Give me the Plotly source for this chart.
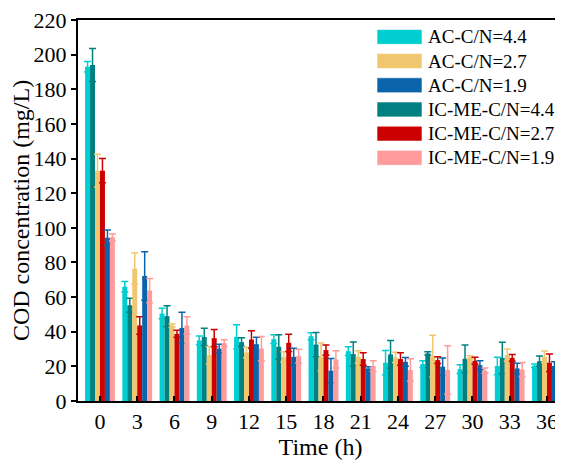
import plotly.graph_objects as go

times = [0, 3, 6, 9, 12, 15, 18, 21, 24, 27, 30, 33, 36]

# series (drawn order within each group)
names = ["AC-C/N=4.4", "IC-ME-C/N=4.4", "AC-C/N=2.7", "IC-ME-C/N=2.7", "AC-C/N=1.9", "IC-ME-C/N=1.9"]
colors = ["#00CED1", "#008080", "#F0C66E", "#CC0000", "#0A64AA", "#FF9B9B"]

ac44 = [193, 66, 50.5, 35, 37, 35.7, 37.4, 28.8, 22.1, 21.3, 18.4, 20.2, 20.4]
ac44_err = [3, 3, 3, 2.5, 7, 2.5, 2, 2.5, 7, 2, 2.5, 5, 1]
ic44 = [194, 55.3, 49, 37, 34, 31.3, 32.6, 27.1, 26.9, 27.5, 24.4, 24.9, 23]
ic44_err = [9.5, 4, 6, 5, 2.5, 7, 7, 7, 8, 1, 8, 9, 3]
ac27 = [133, 76.4, 43.6, 26.5, 28, 25.5, 25.5, 25.5, 25.2, 25.9, 25.2, 26.5, 25.5]
ac27_err = [9.5, 9, 1, 5, 3, 3, 8, 3.5, 3, 12, 1, 3.5, 3.3]
ic27 = [133, 43.6, 38.8, 36.3, 35.5, 33.6, 29.4, 24.2, 24.2, 23.6, 23.2, 24.9, 22.1]
ic27_err = [7, 5, 2, 5, 5, 5, 3, 3.6, 3.6, 2, 2, 2, 5]
ac19 = [94.3, 72.2, 42.2, 30.3, 32.8, 25.5, 17.5, 18.8, 22.6, 19.8, 20.7, 18.8, 20.2]
ac19_err = [4.5, 14, 9, 2.5, 4, 5, 7, 1, 2.5, 5, 2.5, 3, 2.5]
ic19 = [94.5, 63.8, 43.6, 33.4, 30.3, 25.9, 24, 20.2, 17.9, 17.9, 17.5, 18.2, 17.9]
ic19_err = [2, 7, 5, 2, 7, 4, 5, 3, 6.5, 14, 1.5, 4, 3]

values = [ac44, ic44, ac27, ic27, ac19, ic19]
errors = [ac44_err, ic44_err, ac27_err, ic27_err, ac19_err, ic19_err]

# legend order
legend_order = [0, 2, 4, 1, 3, 5]

FONT = "Liberation Serif"

fig = go.Figure()
for name, col, v, e in zip(names, colors, values, errors):
    fig.add_trace(go.Bar(
        x=times, y=v, name=name,
        marker=dict(color=col, line=dict(width=0)),
        error_y=dict(type="data", array=e, visible=True, color=col, thickness=1.5, width=3.5),
        showlegend=False,
    ))

# page body has an 8px margin, so the figure is shifted by 8px
OFF = 8
FIG_W, FIG_H = 563 - OFF, 463 - OFF
# plot area in page pixels
L, R, T, B = 78, 563, 18, 401
W, H = R - L, B - T
def px(xp):
    return (xp - L) / W
def py(yp):
    return (B - yp) / H

shapes = []
annotations = []
for row, idx in enumerate(legend_order):
    cy = 35 + row * 24.3
    shapes.append(dict(type="rect", xref="paper", yref="paper",
                       x0=px(377), x1=px(422), y0=py(cy + 7.5), y1=py(cy - 7.5),
                       fillcolor=colors[idx], line=dict(color="rgba(255,255,255,0.6)", width=1)))
    annotations.append(dict(xref="paper", yref="paper", x=px(426), y=py(cy),
                            text=names[idx], showarrow=False, xanchor="left", yanchor="middle",
                            font=dict(family=FONT, size=19, color="black")))

fig.update_layout(
    width=FIG_W, height=FIG_H,
    margin=dict(l=L - OFF, r=0, t=T - OFF, b=463 - B),
    paper_bgcolor="white", plot_bgcolor="white",
    barmode="group", bargap=0.2, bargroupgap=0,
    font=dict(family=FONT, size=22, color="black"),
    shapes=shapes, annotations=annotations,
    xaxis=dict(
        tickmode="array", tickvals=times, ticktext=[str(t) for t in times],
        range=[-1.77, 37.29], showline=True, linecolor="black", linewidth=2,
        mirror=True, ticks="inside", ticklen=5, tickwidth=2, tickcolor="black",
        showgrid=False, zeroline=False, ticklabeloverflow="allow",
        title=dict(text="Time (h)", font=dict(family=FONT, size=24), standoff=0),
        tickfont=dict(family=FONT, size=22),
    ),
    yaxis=dict(
        range=[0, 220], dtick=20, showline=True, linecolor="black", linewidth=2,
        ticks="outside", ticklen=5, tickwidth=1.5, tickcolor="black",
        showgrid=False, zeroline=False, ticklabeloverflow="allow",
        title=dict(text="COD concentration (mg/L)", font=dict(family=FONT, size=24), standoff=6),
        tickfont=dict(family=FONT, size=22),
    ),
)

fig.write_html("out.html")
